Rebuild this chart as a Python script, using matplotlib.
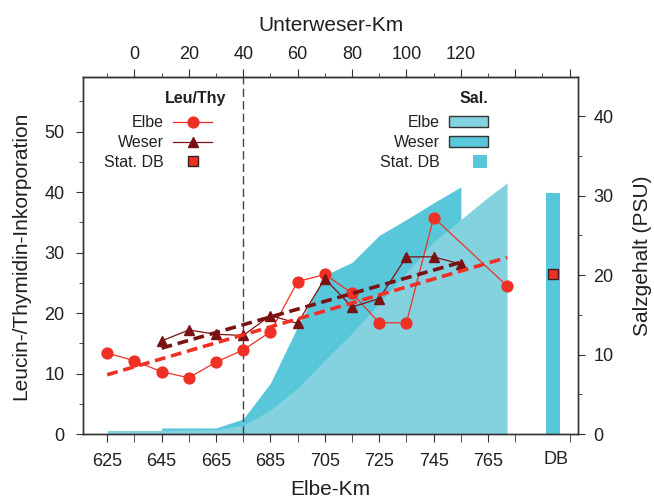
import numpy as np
import matplotlib
matplotlib.use("Agg")
import matplotlib.pyplot as plt
from matplotlib.lines import Line2D
from matplotlib.patches import Patch, Rectangle
from matplotlib.legend_handler import HandlerPatch

plt.rcParams["font.family"] = ["Liberation Sans", "DejaVu Sans"]
plt.rcParams["text.color"] = "#231f20"
plt.rcParams["axes.labelcolor"] = "#231f20"
plt.rcParams["xtick.color"] = "#333333"
plt.rcParams["ytick.color"] = "#333333"
plt.rcParams["xtick.labelcolor"] = "#231f20"
plt.rcParams["ytick.labelcolor"] = "#231f20"

WESER_OFFSET = 635  # Unterweser-Km 0 lies at Elbe-Km 635 on this chart

# Leucin/Thymidin ratios
elbe_km = [625, 635, 645, 655, 665, 675, 685, 695, 705, 715, 725, 735, 745, 772]
elbe_leu = [13.4, 12.1, 10.3, 9.3, 11.9, 13.9, 16.9, 25.2, 26.4, 23.3, 18.4, 18.4, 35.8, 24.5]
weser_km = [10, 20, 30, 40, 50, 60, 70, 80, 90, 100, 110, 120]
weser_leu = [15.4, 17.2, 16.5, 16.3, 19.6, 18.3, 25.7, 21.0, 22.4, 29.3, 29.3, 28.1]
db_leu = 26.5

# linear trends (end points)
elbe_trend_km = [625, 772]
elbe_trend = [9.8, 29.2]
weser_trend_km = [10, 120]
weser_trend = [14.2, 28.4]

# salinity (PSU)
elbe_sal_km = [625, 635, 645, 655, 665, 675, 685, 695, 705, 715, 725, 735, 745, 755, 765, 772]
elbe_sal = [0.45, 0.45, 0.45, 0.5, 0.55, 1.1, 3.0, 5.8, 9.3, 12.7, 16.5, 20.3, 24.2, 27.0, 29.8, 31.6]
weser_sal_km = [10, 20, 30, 40, 50, 60, 70, 80, 90, 100, 110, 120]
weser_sal = [0.76, 0.76, 0.76, 1.9, 6.4, 13.5, 20.0, 21.6, 25.0, 27.0, 29.1, 31.1]
db_sal = 30.3
DB_KM = 788.8

RED = "#ee3124"
DARKRED = "#7a1214"
ELBE_C = "#84d1e0"
WESER_C = "#59c7da"
EDGE = "#333333"
TICK_FS = 13
LABEL_FS = 15

fig = plt.figure(figsize=(6.54, 4.98), dpi=100)
ax = fig.add_axes([0.1265, 0.1285, 0.7578, 0.7163])
ax2 = ax.twinx()
ax.set_zorder(ax2.get_zorder() + 1)
ax.patch.set_visible(False)

# salinity areas on the right axis
wk = np.array(weser_sal_km) + WESER_OFFSET
ax2.fill_between(wk, 0, weser_sal, color=WESER_C, lw=0)
ax2.fill_between(elbe_sal_km, 0, elbe_sal, color=ELBE_C, lw=0)
ax2.bar(DB_KM, db_sal, width=5.3, color=WESER_C, lw=0)
ax2.set_ylim(0, 44.9)
ax2.set_yticks([0, 10, 20, 30, 40])
ax2.set_yticks([5, 15, 25, 35], minor=True)
ax2.tick_params(axis="y", which="major", length=5, labelsize=TICK_FS, pad=6)
ax2.tick_params(axis="y", which="minor", length=3)
ax2.set_ylabel("Salzgehalt (PSU)", fontsize=LABEL_FS, labelpad=14)

# Leu/Thy on the left axis
ax.axvline(675, color="#444444", lw=1, ls=(0, (6, 3)), zorder=1)
ax.plot(elbe_km, elbe_leu, color=RED, lw=0.9, marker="o", ms=7.8, zorder=3)
ax.plot(np.array(weser_km) + WESER_OFFSET, weser_leu, color=DARKRED, lw=0.9,
        marker="^", ms=7.5, zorder=4)
ax.plot(np.array(weser_trend_km) + WESER_OFFSET, weser_trend, color=DARKRED, lw=2.6,
        ls=(0, (3, 1.6)), zorder=5)
ax.plot(elbe_trend_km, elbe_trend, color=RED, lw=2.6, ls=(0, (3, 1.6)), zorder=5)
ax.plot([DB_KM], [db_leu], ls="none", marker="s", ms=6.5, mfc=RED, mec="#3b1f1f",
        mew=1, zorder=6)

ax.set_xlim(616, 798.2)
ax.set_ylim(0, 59)
ax.set_xticks(np.arange(625, 766, 20))
ax.set_xticks(np.arange(635, 796, 20), minor=True)
ax.tick_params(axis="x", which="both", length=6, labelsize=TICK_FS, pad=8)
ax.annotate("DB", xy=(790, 0), xycoords=("data", "axes fraction"),
            xytext=(0, -(6 / 1.389 + 8)), textcoords="offset points",
            ha="center", va="top", fontsize=TICK_FS)
ax.set_yticks(np.arange(0, 51, 10))
ax.set_yticks(np.arange(5, 56, 10), minor=True)
ax.tick_params(axis="y", which="major", length=5, labelsize=TICK_FS, pad=8)
ax.tick_params(axis="y", which="minor", length=3)
ax.set_xlabel("Elbe-Km", fontsize=LABEL_FS, labelpad=7)
ax.set_ylabel("Leucin-/Thymidin-Inkorporation", fontsize=LABEL_FS, labelpad=10)

top = ax.secondary_xaxis("top", functions=(lambda x: x - WESER_OFFSET,
                                           lambda x: x + WESER_OFFSET))
top.set_xticks(np.arange(0, 161, 20), ["0", "20", "40", "60", "80", "100", "120", "", ""])
top.set_xticks(np.arange(-10, 151, 20), minor=True)
top.tick_params(which="major", length=6, labelsize=TICK_FS, pad=4)
top.tick_params(which="minor", length=3)
top.set_xlabel("Unterweser-Km", fontsize=LABEL_FS, labelpad=11)

for a in (ax, ax2):
    for s in a.spines.values():
        s.set_color(EDGE)
        s.set_linewidth(1)
top.spines["top"].set_color(EDGE)

# legends (titles as separate right-aligned text)
ax.text(0.289, 0.9406, "Leu/Thy", transform=ax.transAxes, ha="right", va="center",
        fontsize=11.5, fontweight="bold")
ax.text(0.818, 0.9406, "Sal.", transform=ax.transAxes, ha="right", va="center",
        fontsize=11.5, fontweight="bold")

h1 = [Line2D([], [], color=RED, lw=0.9, marker="o", ms=7.8),
      Line2D([], [], color=DARKRED, lw=0.9, marker="^", ms=7.5),
      Line2D([], [], ls="none", marker="s", ms=6.5, mfc=RED, mec="#3b1f1f")]
leg1 = ax.legend(h1, ["Elbe", "Weser", "Stat. DB"],
                 loc="upper right", bbox_to_anchor=(0.261, 0.893), frameon=False,
                 markerfirst=False, handlelength=2.45,
                 handletextpad=0.55, labelspacing=0.3, borderpad=0, borderaxespad=0,
                 fontsize=11.5)
ax.add_artist(leg1)


def small_square(legend, orig_handle, xdescent, ydescent, width, height, fontsize):
    return Rectangle((-xdescent + width * 0.62, -ydescent - height * 0.05),
                     width * 0.34, height * 1.1)


db_patch = Patch(fc=WESER_C, ec="none")
h2 = [Patch(fc=ELBE_C, ec=EDGE, lw=1), Patch(fc=WESER_C, ec=EDGE, lw=1), db_patch]
ax.legend(h2, ["Elbe", "Weser", "Stat. DB"],
          loc="upper right", bbox_to_anchor=(0.818, 0.893), frameon=False,
          markerfirst=False, handlelength=2.45,
          handletextpad=0.55, labelspacing=0.3, borderpad=0, borderaxespad=0,
          fontsize=11.5,
          handler_map={db_patch: HandlerPatch(patch_func=small_square)})

fig.savefig("out.png", dpi=100)
